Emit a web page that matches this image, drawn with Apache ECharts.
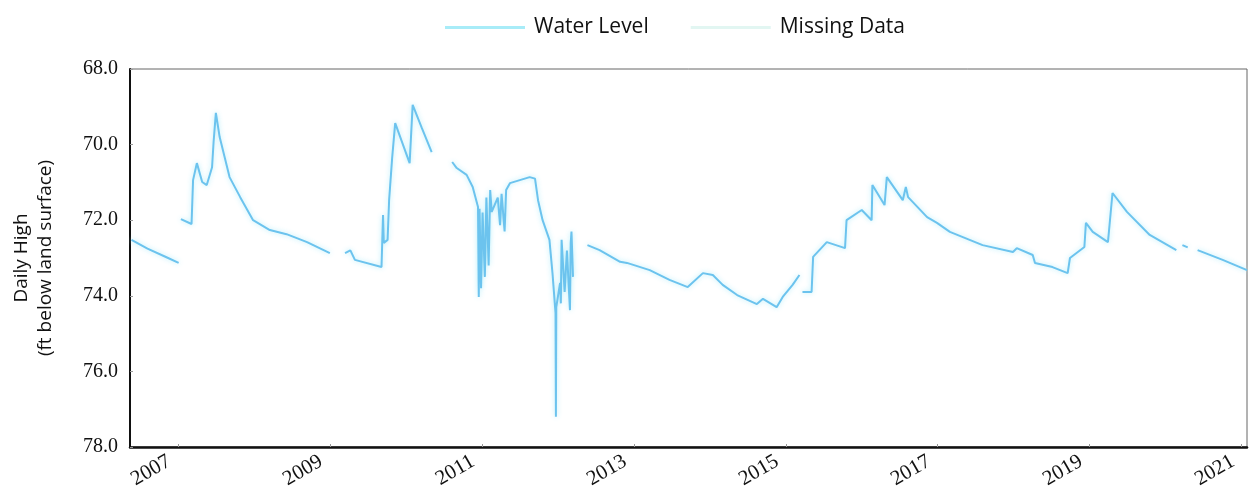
<!DOCTYPE html>
<html>
<head>
<meta charset="utf-8">
<script src="https://cdn.jsdelivr.net/npm/echarts@6/dist/echarts.min.js"></script>
<style>
  html, body { margin: 0; padding: 0; background: #fff; }
  #chart { width: 1249px; height: 499px; }
</style>
</head>
<body>
<div id="chart"></div>
<script>
// decimal years and daily high water level (ft below land surface), null = gap
var years = [
  2006.39, 2006.6, 2006.85, 2007.01, 2007.02,
  2007.04, 2007.18, 2007.2, 2007.25, 2007.32, 2007.38, 2007.45, 2007.47, 2007.5,
  2007.55, 2007.68, 2007.82, 2007.99, 2008.21, 2008.43, 2008.7, 2009.0, 2009.1,
  2009.2, 2009.27, 2009.33, 2009.68, 2009.70, 2009.71, 2009.76, 2009.78, 2009.82, 2009.86,
  2010.05, 2010.09, 2010.21, 2010.34, 2010.45,
  2010.61, 2010.67, 2010.80, 2010.88, 2010.95, 2010.96, 2010.97, 2010.99, 2011.01, 2011.04,
  2011.06, 2011.09, 2011.11, 2011.13, 2011.21, 2011.24, 2011.26, 2011.30, 2011.32, 2011.37,
  2011.50, 2011.63, 2011.70, 2011.74, 2011.80, 2011.89, 2011.93, 2011.97, 2011.975, 2011.98,
  2012.03, 2012.04, 2012.05, 2012.09, 2012.12, 2012.16, 2012.17, 2012.18, 2012.20, 2012.3,
  2012.39, 2012.55, 2012.82, 2012.91, 2013.21, 2013.47, 2013.71, 2013.91, 2014.04, 2014.17,
  2014.36, 2014.62, 2014.70, 2014.88, 2014.96, 2015.09, 2015.18, 2015.2,
  2015.22, 2015.34, 2015.36, 2015.54, 2015.78, 2015.80, 2016.00, 2016.13, 2016.14, 2016.30,
  2016.33, 2016.54, 2016.58, 2016.61, 2016.86, 2016.99, 2017.16, 2017.59, 2017.99, 2018.04,
  2018.25, 2018.28, 2018.51, 2018.71, 2018.74, 2018.93, 2018.95, 2019.04, 2019.24, 2019.30,
  2019.49, 2019.79, 2020.14, 2020.18,
  2020.22, 2020.29, 2020.35,
  2020.42, 2020.75, 2021.07
];
var levels = [
  72.52, 72.75, 72.98, 73.13, null,
  71.97, 72.10, 70.94, 70.49, 70.99, 71.07, 70.60, 69.93, 69.16,
  69.80, 70.86, 71.39, 72.00, 72.26, 72.37, 72.58, 72.87, null,
  72.87, 72.80, 73.05, 73.24, 71.86, 72.60, 72.52, 71.47, 70.35, 69.43,
  70.49, 68.95, 69.56, 70.20, null,
  70.46, 70.62, 70.80, 71.12, 71.65, 74.03, 71.70, 73.80, 71.80, 73.50,
  71.40, 73.20, 71.20, 71.78, 71.40, 72.13, 71.30, 72.30, 71.20, 71.02,
  70.94, 70.86, 70.90, 71.47, 72.00, 72.52, 73.40, 74.45, 77.20, 74.30,
  73.66, 74.20, 72.52, 73.90, 72.80, 74.38, 72.60, 72.30, 73.50, null,
  72.66, 72.79, 73.10, 73.13, 73.32, 73.58, 73.77, 73.40, 73.45, 73.71,
  73.98, 74.22, 74.08, 74.30, 74.03, 73.71, 73.45, null,
  73.90, 73.90, 72.97, 72.58, 72.74, 72.00, 71.73, 72.00, 71.07, 71.60,
  70.86, 71.47, 71.12, 71.39, 71.92, 72.07, 72.31, 72.66, 72.84, 72.74,
  72.92, 73.13, 73.24, 73.40, 73.00, 72.71, 72.07, 72.31, 72.58, 71.28,
  71.78, 72.39, 72.79, null,
  72.66, 72.72, null,
  72.79, 73.05, 73.32
];
var yearTicks = [2007, 2009, 2011, 2013, 2015, 2017, 2019, 2021];

var points = years.map(function (y, i) { return [y, levels[i]]; });

var option = {
  animation: false,
  legend: {
    left: 440,
    top: 12,
    itemWidth: 80,
    itemHeight: 3,
    itemGap: 42,
    icon: 'rect',
    textStyle: { fontFamily: 'Open Sans', fontSize: 21, color: '#111', padding: [0, 0, 0, 4] },
    data: ['Water Level', 'Missing Data']
  },
  grid: {
    left: 130, right: 2, top: 69, bottom: 52,
    outerBoundsMode: 'none',
    show: true, borderColor: '#666', borderWidth: 1
  },
  xAxis: {
    type: 'value',
    min: 2006.37,
    max: 2021.07,
    axisLine: { lineStyle: { color: '#111', width: 2.5 } },
    axisTick: { inside: true, length: 3, lineStyle: { color: '#999' }, customValues: yearTicks },
    splitLine: { show: false },
    axisLabel: {
      customValues: yearTicks,
      rotate: 30,
      margin: 8,
      padding: [0, 10, 0, 0],
      fontFamily: 'Liberation Serif',
      fontSize: 21,
      color: '#111',
      formatter: function (v) { return String(Math.round(v)); }
    }
  },
  yAxis: {
    type: 'value',
    inverse: true,
    min: 68,
    max: 78,
    interval: 2,
    name: 'Daily High\n(ft below land surface)',
    nameLocation: 'middle',
    nameRotate: 90,
    nameGap: 72,
    nameTextStyle: { fontFamily: 'Open Sans', fontSize: 19, lineHeight: 24, color: '#111' },
    axisLine: { show: true, lineStyle: { color: '#111', width: 2 } },
    axisTick: { show: true, inside: true, length: 3, lineStyle: { color: '#999' } },
    splitLine: { show: false },
    axisLabel: {
      margin: 12,
      fontFamily: 'Liberation Serif',
      fontSize: 20,
      color: '#111',
      formatter: function (v) { return v.toFixed(1); }
    }
  },
  series: [
    {
      name: 'Water Level',
      type: 'line',
      data: points,
      showSymbol: false,
      connectNulls: false,
      color: '#a8ecf8',
      lineStyle: { color: '#6cc3ee', width: 2, shadowColor: 'rgba(170,235,250,0.9)', shadowBlur: 5 }
    },
    {
      name: 'Missing Data',
      type: 'line',
      data: [],
      showSymbol: false,
      color: '#e2f6f2',
      lineStyle: { color: '#e2f6f2', width: 2 }
    }
  ]
};

var myChart = echarts.init(document.getElementById('chart'));
myChart.setOption(option);
</script>
</body>
</html>
